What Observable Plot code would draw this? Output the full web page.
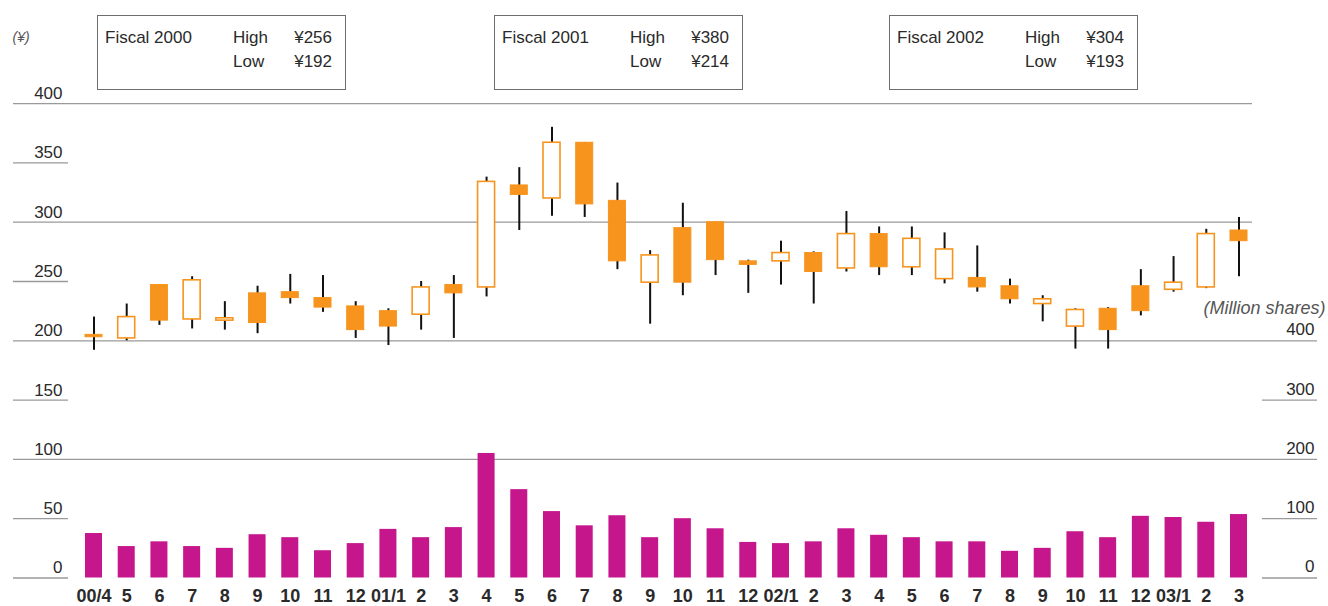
<!DOCTYPE html>
<html>
<head>
<meta charset="utf-8">
<script src="https://cdn.jsdelivr.net/npm/d3@7"></script>
<script src="https://cdn.jsdelivr.net/npm/@observablehq/plot@0.6"></script>
<style>
html, body { margin: 0; padding: 0; background: #fff; }
#wrap { position: relative; width: 1328px; height: 606px; font-family: "Liberation Sans", Arial, sans-serif; color: #2a2a2a; }
#wrap svg { position: absolute; left: 0; top: 0; }
.box { position: absolute; top: 15px; width: 249px; height: 75px; box-sizing: border-box; border: 1px solid #6e6e6e; background: #fff; font-size: 17px; line-height: 24px; }
.box span { position: absolute; white-space: nowrap; }
</style>
</head>
<body>
<div id="wrap"></div>
<script>
// ---- data ----
const monthLabels = ["00/4","5","6","7","8","9","10","11","12","01/1","2","3",
                     "4","5","6","7","8","9","10","11","12","02/1","2","3",
                     "4","5","6","7","8","9","10","11","12","03/1","2","3"];
const openPrice  = [205,202,247,218,217,240,241,236,229,225,222,247,
                    245,331,320,367,318,249,295,300,267,267,274,261,
                    290,262,252,253,246,231,212,227,246,243,245,293];
const closePrice = [203,220,217,251,219,215,236,228,209,212,245,240,
                    334,323,367,315,267,272,249,268,264,274,258,290,
                    262,286,277,245,235,235,226,209,225,249,290,284];
const highPrice  = [220,231,247,254,233,246,256,255,233,227,250,255,
                    338,346,380,367,333,276,316,300,268,284,275,309,
                    296,296,291,280,252,238,227,228,260,271,294,304];
const lowPrice   = [192,200,213,210,209,206,231,224,202,196,209,202,
                    237,293,305,304,260,214,238,255,240,247,231,258,
                    255,255,248,241,231,216,193,193,221,241,244,254];
const volumeMillion = [75,53,61,53,50,73,68,46,58,82,68,85,
                       210,149,112,88,105,68,100,83,60,58,61,83,
                       72,68,61,61,45,50,78,68,104,102,94,107];

const fiscalYears = ["Fiscal 2000","Fiscal 2001","Fiscal 2002"];
const fiscalHigh = [256,380,304];
const fiscalLow  = [192,214,193];

const priceTickLabels = [400,350,300,250,200,150,100,50,0];
const volumeTickLabels = [400,300,200,100,0];

// ---- layout / style ----
const ORANGE = "#F7941E", MAGENTA = "#C5168C", GRID = "#9a9a9a", INK = "#2a2a2a";
const FONT = "'Liberation Sans', Arial, sans-serif";
const gridFull = [200, 100];            // full-width lines (shared with volume axis)
const gridPriceOnly = [400, 300];        // lines ending before the volume axis
const priceShort = [350, 250, 150, 50, 0];
const volumeShort = [300, 100, 0];
const boxLeft = [97, 494, 889];

const rows = monthLabels.map((label, i) => ({
  i, label,
  open: openPrice[i], close: closePrice[i],
  high: highPrice[i], low: lowPrice[i],
  vol: volumeMillion[i]
}));

const chart = Plot.plot({
  width: 1328,
  height: 606,
  marginLeft: 13,
  marginRight: 11,
  marginTop: 0,
  marginBottom: 0,
  style: { fontFamily: FONT, background: "transparent", color: INK },
  x: { type: "band", domain: rows.map(d => d.i), range: [77.14, 1254.86], paddingInner: 0.48, paddingOuter: 0.24, round: false, axis: null },
  y: { domain: [0, 400], range: [577.5, 103.1], axis: null },
  marks: [
    Plot.ruleY(gridFull, { y: d => d, stroke: GRID, strokeWidth: 1.3 }),
    Plot.ruleY(gridPriceOnly, { y: d => d, stroke: GRID, strokeWidth: 1.3, insetRight: 65 }),
    Plot.ruleY(priceShort, { y: d => d, stroke: GRID, strokeWidth: 1.3, insetRight: 1249 }),
    Plot.ruleY(volumeShort, { y: d => d / 2, stroke: GRID, strokeWidth: 1.3, insetLeft: 1249 }),
    // volume bars (right axis: million shares, half scale)
    Plot.barY(rows, { x: "i", y: d => d.vol / 2, fill: MAGENTA }),
    // candlestick wicks
    Plot.ruleX(rows, { x: "i", y1: "low", y2: "high", stroke: "#111", strokeWidth: 2 }),
    // falling months: filled
    Plot.barY(rows, { filter: d => d.close < d.open, x: "i", y1: "close", y2: "open", fill: ORANGE, stroke: ORANGE, strokeWidth: 1 }),
    // rising months: hollow
    Plot.barY(rows, { filter: d => d.close >= d.open, x: "i", y1: "open", y2: "close", fill: "white", stroke: ORANGE, strokeWidth: 1.6 }),
    // left price labels
    Plot.text(priceTickLabels, { y: d => d, text: d => String(d), frameAnchor: "left", textAnchor: "end", lineAnchor: "middle", dx: 49, dy: -10, fontSize: 17, fill: INK }),
    // right volume labels
    Plot.text(volumeTickLabels, { y: d => d / 2, text: d => String(d), frameAnchor: "right", textAnchor: "end", lineAnchor: "middle", dx: -3, dy: -11, fontSize: 17, fill: INK }),
    // axis units
    Plot.text(["(¥)"], { text: d => d, frameAnchor: "top-left", textAnchor: "start", lineAnchor: "middle", dx: -1, dy: 37, fontSize: 14, fontStyle: "italic", fill: "#555" }),
    Plot.text(["(Million shares)"], { text: d => d, y: 200, frameAnchor: "right", textAnchor: "end", lineAnchor: "middle", dx: 8, dy: -33, fontSize: 18, fontStyle: "italic", fill: "#555" }),
    // month labels
    Plot.text(rows, { x: "i", text: "label", frameAnchor: "bottom", lineAnchor: "middle", dy: -10, fontSize: 18, fontWeight: "bold", fill: INK })
  ]
});

const wrap = document.getElementById("wrap");
wrap.appendChild(chart);

fiscalYears.forEach((fy, k) => {
  const b = document.createElement("div");
  b.className = "box";
  b.style.left = boxLeft[k] + "px";
  b.innerHTML =
    `<span style="left:7px;top:10px">${fy}</span>` +
    `<span style="left:135px;top:10px">High</span>` +
    `<span style="right:13px;top:10px">¥${fiscalHigh[k]}</span>` +
    `<span style="left:135px;top:34px">Low</span>` +
    `<span style="right:13px;top:34px">¥${fiscalLow[k]}</span>`;
  wrap.appendChild(b);
});
</script>
</body>
</html>
